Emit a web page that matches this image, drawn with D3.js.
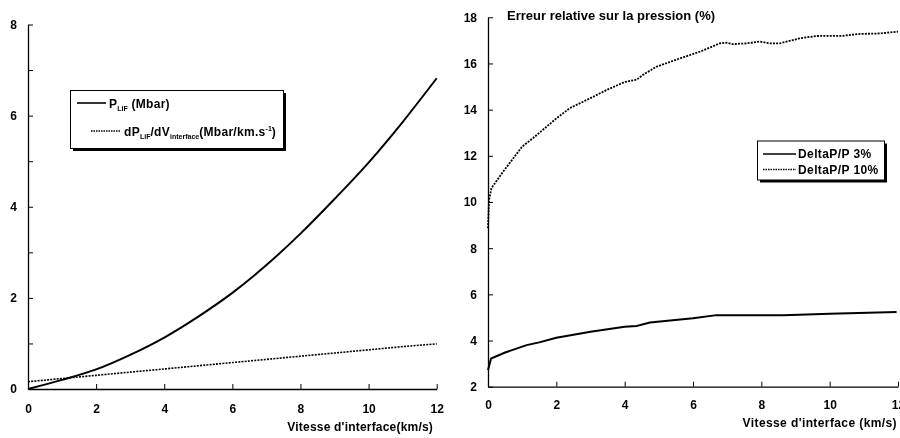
<!DOCTYPE html>
<html><head><meta charset="utf-8">
<script src="https://cdn.jsdelivr.net/npm/d3@7"></script>
<style>
body{margin:0;background:#fff;}
svg{display:block;font-family:Arial,"Liberation Sans",sans-serif;font-weight:bold;will-change:transform;}
</style></head><body>
<svg id="c" width="900" height="438"></svg>
<script>
// Left chart data
const velLeft = [0,1,2,3,4,5,6,7,8,9,10,11,12];
const pLiF   = [0,0.2,0.43,0.75,1.13,1.59,2.11,2.72,3.41,4.17,4.97,5.86,6.82];
const dPdV   = [0.16,0.23,0.30,0.37,0.44,0.51,0.58,0.65,0.72,0.79,0.86,0.93,0.99];
const leftYTicks = [0,1,2,3,4,5,6,7,8];
const leftXTicks = [0,2,4,6,8,10,12];

// Right chart data
const velR3  = [0,0.09,0.5,1.13,1.5,2,3,4,4.35,4.74,6,6.69,8.64,10,11.96];
const err3   = [2.72,3.22,3.48,3.8,3.92,4.12,4.38,4.6,4.63,4.78,4.96,5.1,5.1,5.16,5.24];
const velR10 = [0,0.03,0.1,0.44,1,1.32,2,2.4,3,3.47,4,4.35,4.53,4.93,5.6,6.2,6.78,6.98,7.17,7.56,7.95,8.25,8.54,9.12,9.61,10.39,10.88,11.46,12];
const err10  = [8.86,10.08,10.6,11.31,12.4,12.77,13.62,14.07,14.5,14.85,15.2,15.3,15.5,15.86,16.21,16.51,16.87,16.9,16.84,16.87,16.95,16.87,16.87,17.09,17.19,17.2,17.28,17.3,17.38];
const rightYTicks = [2,4,6,8,10,12,14,16,18];
const rightXTicks = [0,2,4,6,8,10,12];

const svg = d3.select("#c");
const FS = 12;

function styleAxis(g){
  g.select(".domain").attr("stroke","#000").attr("stroke-width",1.3);
  g.selectAll(".tick line").attr("stroke","#000").attr("stroke-width",1);
  g.selectAll(".tick text").attr("fill","#000").attr("font-size",FS).attr("font-weight","bold");
}

// ---------- Left chart ----------
const xL = d3.scaleLinear().domain([0,12]).range([28,436.7]);
const yL = d3.scaleLinear().domain([0,8]).range([389,24.5]);

svg.append("g").attr("transform",`translate(0,${yL(0)})`)
  .call(d3.axisBottom(xL).tickValues(leftXTicks).tickSize(-5).tickSizeOuter(0).tickPadding(15).tickFormat(d3.format("d")))
  .call(styleAxis);
svg.append("g").attr("transform",`translate(${xL(0)},0)`)
  .call(d3.axisLeft(yL).tickValues(leftYTicks).tickSize(-5).tickSizeOuter(0).tickPadding(11).tickFormat(d=>d%2?"":d))
  .call(styleAxis);

const lineL1 = d3.line().x((d,i)=>xL(velLeft[i])).y(d=>yL(d)).curve(d3.curveMonotoneX);
svg.append("path").attr("d",lineL1(pLiF)).attr("fill","none").attr("stroke","#000").attr("stroke-width",2);
svg.append("path").attr("d",lineL1(dPdV)).attr("fill","none").attr("stroke","#000").attr("stroke-width",1.6).attr("stroke-dasharray","2,1.2");

svg.append("text").attr("x",433).attr("y",431).attr("text-anchor","end").attr("font-size",FS).attr("letter-spacing",0.2).text("Vitesse d'interface(km/s)");

// Left legend
const lg = svg.append("g");
lg.append("rect").attr("x",73).attr("y",93).attr("width",213).attr("height",58).attr("fill","#000");
lg.append("rect").attr("x",70.5).attr("y",90.5).attr("width",213).attr("height",58).attr("fill","#fff").attr("stroke","#000").attr("stroke-width",1);
lg.append("line").attr("x1",77).attr("x2",106).attr("y1",103).attr("y2",103).attr("stroke","#000").attr("stroke-width",1.6);
lg.append("line").attr("x1",91).attr("x2",121).attr("y1",131).attr("y2",131).attr("stroke","#000").attr("stroke-width",1.4).attr("stroke-dasharray","1.5,1");
const t1 = lg.append("text").attr("x",109).attr("y",107.5).attr("font-size",FS).attr("letter-spacing",0.3);
t1.append("tspan").text("P");
t1.append("tspan").attr("font-size",7).attr("dy",3).attr("letter-spacing",0).text("LiF");
t1.append("tspan").attr("dy",-3).text(" (Mbar)");
const t2 = lg.append("text").attr("x",124).attr("y",135.5).attr("font-size",FS).attr("letter-spacing",0.3);
t2.append("tspan").text("dP");
t2.append("tspan").attr("font-size",7).attr("dy",3).attr("letter-spacing",0).text("LiF");
t2.append("tspan").attr("dy",-3).text("/dV");
t2.append("tspan").attr("font-size",7).attr("dy",3).attr("letter-spacing",0).text("interface");
t2.append("tspan").attr("dy",-3).text("(Mbar/km.s");
t2.append("tspan").attr("font-size",7).attr("dy",-5).attr("letter-spacing",0).text("-1");
t2.append("tspan").attr("dy",5).text(")");

// ---------- Right chart ----------
const xR = d3.scaleLinear().domain([0,12]).range([488,898]);
const yR = d3.scaleLinear().domain([2,18]).range([386.7,17.3]);

svg.append("g").attr("transform",`translate(0,${yR(2)})`)
  .call(d3.axisBottom(xR).tickValues(rightXTicks).tickSize(-5).tickSizeOuter(0).tickPadding(14).tickFormat(d3.format("d")))
  .call(styleAxis);
svg.append("g").attr("transform",`translate(${xR(0)},0)`)
  .call(d3.axisLeft(yR).tickValues(rightYTicks).tickSize(-5).tickSizeOuter(0).tickPadding(11).tickFormat(d3.format("d")))
  .call(styleAxis);

const line3 = d3.line().x((d,i)=>xR(velR3[i])).y(d=>yR(d));
const line10 = d3.line().x((d,i)=>xR(velR10[i])).y(d=>yR(d));
svg.append("path").attr("d",line3(err3)).attr("fill","none").attr("stroke","#000").attr("stroke-width",2);
svg.append("path").attr("d",line10(err10)).attr("fill","none").attr("stroke","#000").attr("stroke-width",1.8).attr("stroke-dasharray","2,1.2");

svg.append("text").attr("x",507).attr("y",19.5).attr("font-size",13).text("Erreur relative sur la pression (%)");
svg.append("text").attr("x",897).attr("y",427).attr("text-anchor","end").attr("font-size",FS).attr("letter-spacing",0.4).text("Vitesse d'interface (km/s)");

// Right legend
const rg = svg.append("g");
rg.append("rect").attr("x",760).attr("y",143.5).attr("width",127).attr("height",39).attr("fill","#000");
rg.append("rect").attr("x",757.5).attr("y",141).attr("width",127).attr("height",39).attr("fill","#fff").attr("stroke","#000").attr("stroke-width",1);
rg.append("line").attr("x1",763).attr("x2",796).attr("y1",154).attr("y2",154).attr("stroke","#000").attr("stroke-width",1.6);
rg.append("line").attr("x1",763).attr("x2",796).attr("y1",169.5).attr("y2",169.5).attr("stroke","#000").attr("stroke-width",1.4).attr("stroke-dasharray","1.5,1");
rg.append("text").attr("x",798).attr("y",158).attr("font-size",FS).attr("letter-spacing",0.4).text("DeltaP/P 3%");
rg.append("text").attr("x",798).attr("y",174).attr("font-size",FS).attr("letter-spacing",0.4).text("DeltaP/P 10%");
</script>
</body></html>
